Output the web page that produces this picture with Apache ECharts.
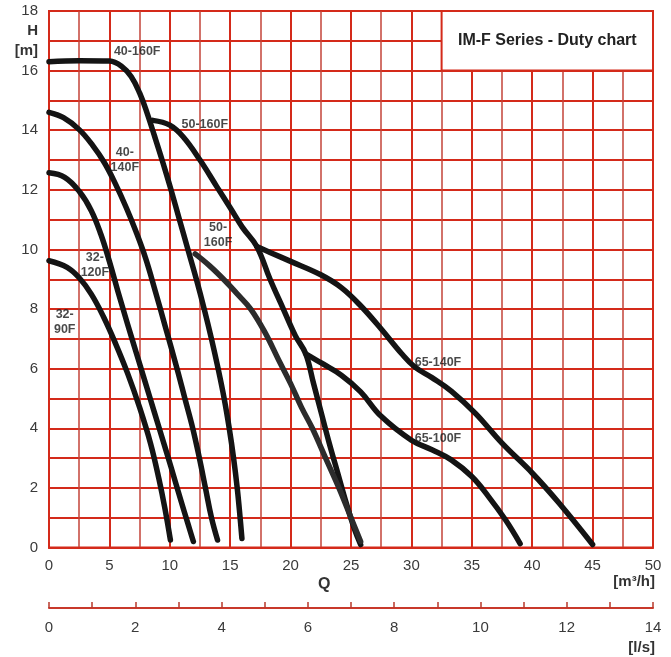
<!DOCTYPE html>
<html><head><meta charset="utf-8">
<script src="https://cdn.jsdelivr.net/npm/echarts@6/dist/echarts.min.js"></script>
<style>html,body{margin:0;padding:0;background:#fff;}#c{width:671px;height:657px;}</style>
</head><body><div id="c"></div>
<script>
// ---- data (Q in m3/h, H in m) ----
const qTicks = [0,5,10,15,20,25,30,35,40,45,50];
const lsTicks = [0,2,4,6,8,10,12,14];
const hTicks = [0,2,4,6,8,10,12,14,16,18];

const c32_90F  = [[0,9.62],[1.5,9.4],[2.5,9.05],[3.5,8.5],[4.5,7.75],[5.5,6.85],[6.5,5.85],[7.5,4.7],[8.4,3.5],[9.1,2.3],[9.6,1.3],[10.05,0.25]];
const c32_120F = [[0,12.57],[1.3,12.42],[2.5,11.95],[3.5,11.3],[4.3,10.5],[5.0,9.6],[5.7,8.6],[6.5,7.5],[7.4,6.3],[8.3,5.1],[9.2,3.9],[10.1,2.7],[10.9,1.6],[11.5,0.8],[11.95,0.2]];
const c40_140F = [[0,14.6],[1.2,14.42],[2.5,14.02],[3.6,13.5],[4.6,12.9],[5.5,12.2],[6.4,11.4],[7.2,10.6],[8.0,9.7],[8.8,8.6],[9.6,7.45],[10.6,6.0],[11.25,5.0],[11.9,4.0],[12.45,3.0],[12.95,2.0],[13.45,1.0],[13.95,0.25]];
const c40_160F = [[0,16.3],[2.5,16.33],[5,16.32],[6.0,16.15],[6.8,15.8],[7.5,15.25],[8.1,14.6],[8.7,13.85],[9.4,12.95],[10.1,12.0],[10.8,11.0],[11.5,10.0],[12.2,9.0],[12.85,8.0],[13.45,7.0],[14.0,6.0],[14.5,5.0],[14.92,4.0],[15.28,3.0],[15.58,2.0],[15.82,1.0],[15.97,0.3]];
const c50_160F_a = [[8.6,14.33],[10,14.17],[11.1,13.78],[12.5,13.0],[13.9,12.1],[15.0,11.4],[16.0,10.75],[17.2,10.1],[18.3,9.0],[19.4,8.0],[20.4,7.1],[21.25,6.5],[21.9,5.5],[22.55,4.5],[23.2,3.5],[23.9,2.5],[24.6,1.5],[25.3,0.6],[25.8,0.1]];
const c50_160F_b = [[12.1,9.85],[13.3,9.45],[14.45,9.0],[15.6,8.5],[16.7,8.0],[17.9,7.2],[19.0,6.3],[20.0,5.5],[20.9,4.7],[21.8,4.0],[22.9,3.0],[24.0,2.0],[25.0,1.0],[25.8,0.2]];
const c65_140F = [[17.2,10.1],[18.3,9.9],[20,9.6],[22.5,9.15],[24.2,8.72],[25.8,8.11],[27.5,7.33],[29.2,6.5],[30.3,6.05],[31.7,5.7],[33.3,5.25],[35.3,4.5],[37.5,3.5],[40,2.5],[42.2,1.5],[45,0.1]];
const c65_100F = [[21.25,6.5],[22.5,6.2],[24.2,5.78],[25.8,5.22],[27.5,4.4],[30,3.6],[31.7,3.28],[33.3,2.94],[35,2.38],[36.4,1.7],[37.8,0.92],[39,0.13]];

const curveLabels = [
  [7.3,16.63,'40-160F'],
  [12.9,14.2,'50-160F'],
  [6.28,13.0,'40-\n140F'],
  [3.8,9.48,'32-\n120F'],
  [1.3,7.57,'32-\n90F'],
  [14.0,10.49,'50-\n160F'],
  [32.2,6.22,'65-140F'],
  [32.2,3.67,'65-100F']
];
const titleBox = [[32.5,16],[50,18]];
const titleText = 'IM-F Series - Duty chart';

// ---- chart ----
const RED = '#d42a1a';
const MINOR = '#c4443a';
const FONT = '"Liberation Sans", Arial, Helvetica, sans-serif';
const chart = echarts.init(document.getElementById('c'), null, {renderer:'canvas'});

function curve(name, data, color){
  return {type:'line', name, data, xAxisIndex:0, yAxisIndex:0, smooth:0.4, showSymbol:false, symbol:'none',
    lineStyle:{color: color||'#141414', width:5.5, cap:'round', join:'round'}, z:3, silent:true};
}

chart.setOption({
  animation:false,
  backgroundColor:'#fff',
  textStyle:{fontFamily:FONT},
  grid:[
    {left:49, top:11, width:604, height:536.5, show:true, borderColor:RED, borderWidth:2, backgroundColor:'#fff'},
    {left:49, top:607, width:604, height:1}
  ],
  xAxis:[
    {type:'value', gridIndex:0, min:0, max:50, interval:5,
     axisLine:{show:true, lineStyle:{color:RED, width:2}}, axisTick:{show:false},
     axisLabel:{color:'#3a3a3a', fontSize:15, margin:11, formatter:v=>qTicks.includes(v)?String(v):''},
     splitLine:{show:true, lineStyle:{color:RED, width:2}},
     minorTick:{show:false, splitNumber:2},
     minorSplitLine:{show:true, lineStyle:{color:MINOR, width:1.5}}},
    {type:'value', gridIndex:1, min:0, max:14, interval:1, position:'bottom',
     axisLine:{show:true, lineStyle:{color:'#c8392b', width:2}},
     axisTick:{show:true, inside:true, length:6, lineStyle:{color:'#b8392b', width:1.5}},
     axisLabel:{color:'#3a3a3a', fontSize:15, margin:12, formatter:v=>lsTicks.includes(v)?String(v):''},
     splitLine:{show:false}}
  ],
  yAxis:[
    {type:'value', gridIndex:0, min:0, max:18, interval:1,
     axisLine:{show:true, lineStyle:{color:RED, width:2}}, axisTick:{show:false},
     axisLabel:{color:'#3a3a3a', fontSize:15, margin:11,
       formatter:v=> hTicks.includes(v)? String(v) : (v===17 ? '{b|H}\n{b|[m]}' : ''),
       rich:{b:{fontWeight:'bold', fontSize:15, color:'#333', lineHeight:20, fontFamily:FONT}}},
     splitLine:{show:true, lineStyle:{color:RED, width:1.8}}},
    {type:'value', gridIndex:1, show:false, min:0, max:1}
  ],
  graphic:[
    {type:'text', left:318, top:577, style:{text:'Q', font:'bold 16px '+FONT, fill:'#333'}},
    {type:'text', right:16, top:574, style:{text:'[m³/h]', font:'bold 15px '+FONT, fill:'#333'}},
    {type:'text', right:16, top:640, style:{text:'[l/s]', font:'bold 15px '+FONT, fill:'#333'}}
  ],
  series:[
    {type:'scatter', name:'box', xAxisIndex:0, yAxisIndex:0, data:[], silent:true,
     markArea:{silent:true, z:2, itemStyle:{color:'#ffffff', borderColor:RED, borderWidth:2},
       label:{show:true, position:'inside', formatter:titleText, color:'#222', fontWeight:'bold', fontSize:16, fontFamily:FONT},
       data:[[{coord:titleBox[0]},{coord:titleBox[1]}]]}},
    curve('32-90F', c32_90F),
    curve('32-120F', c32_120F),
    curve('40-140F', c40_140F),
    curve('40-160F', c40_160F),
    curve('50-160F', c50_160F_a),
    curve('50-160F b', c50_160F_b, '#2c2c2c'),
    curve('65-140F', c65_140F),
    curve('65-100F', c65_100F),
    {type:'scatter', name:'labels', xAxisIndex:0, yAxisIndex:0, symbolSize:0, silent:true, z:5,
     data:curveLabels,
     label:{show:true, position:'inside', formatter:p=>p.data[2], color:'#1a1a1a', fontWeight:'bold', fontSize:12.5, lineHeight:15, fontFamily:FONT, align:'center'}}
  ]
});
</script></body></html>
